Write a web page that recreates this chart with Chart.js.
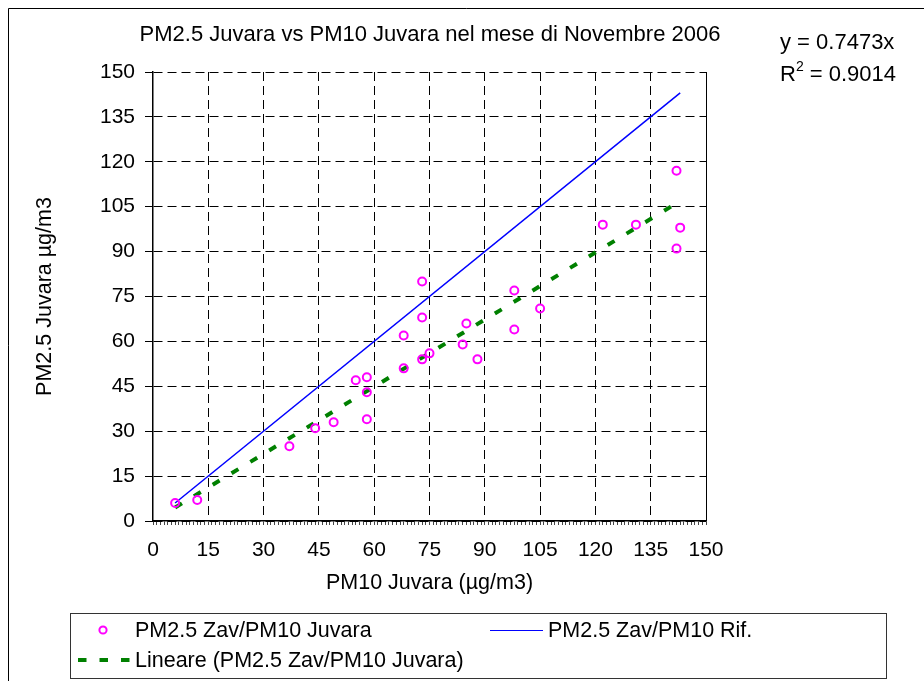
<!DOCTYPE html>
<html><head><meta charset="utf-8">
<script src="https://cdn.jsdelivr.net/npm/chart.js@4/dist/chart.umd.min.js"></script>
<style>html,body{margin:0;padding:0;background:#fff;overflow:hidden}canvas{display:block}</style>
</head><body>
<canvas id="c" width="924" height="681"></canvas>
<script>
// ---- data ----
const pm10Juvara = [6, 12, 37, 44, 49, 55, 58, 58, 58, 68, 68, 73, 73, 73, 75, 84, 85, 88, 98, 98, 105, 122, 131, 142, 143, 142];
const pm25Zav    = [6, 7, 25, 31, 33, 47, 48, 43, 34, 62, 51, 80, 68, 54, 56, 59, 66, 54, 77, 64, 71, 99, 99, 117, 98, 91];
const refX   = [6, 143];
const refY   = [6, 143];
const trendX = [6, 143];
const trendY = [4.5, 106.9];
const axisMin = 0, axisMax = 150, majorStep = 15;

const titleText = 'PM2.5 Juvara vs PM10 Juvara nel mese di Novembre 2006';
const xTitle = 'PM10 Juvara (µg/m3)';
const yTitle = 'PM2.5 Juvara µg/m3';
const eqText = 'y = 0.7473x';
const r2Label = 'R', r2Sup = '2', r2Value = ' = 0.9014';
const seriesNames = ['PM2.5 Zav/PM10 Juvara', 'PM2.5 Zav/PM10 Rif.', 'Lineare (PM2.5 Zav/PM10 Juvara)'];

const FONT = "'Liberation Sans', Arial, sans-serif";
Chart.defaults.font.family = FONT;
Chart.defaults.color = '#000';

const pts = (xs, ys) => xs.map((x, i) => ({x, y: ys[i]}));

const decor = {
  id: 'decor',
  beforeDraw(chart) {
    const c = chart.ctx;
    c.save(); c.fillStyle = '#fff'; c.fillRect(0, 0, chart.width, chart.height); c.restore();
  },
  afterDraw(chart) {
    const c = chart.ctx;
    const ds = chart.data.datasets;
    c.save();
    // outer frame
    c.strokeStyle = '#000'; c.lineWidth = 1;
    c.beginPath(); c.moveTo(8.5, 690); c.lineTo(8.5, 8.5); c.lineTo(930, 8.5); c.stroke();
    // title
    c.fillStyle = '#000';
    c.font = '22px ' + FONT;
    c.textAlign = 'center'; c.textBaseline = 'middle';
    c.fillText(titleText, 430, 35);
    // equation
    c.textAlign = 'left';
    c.font = '22px ' + FONT;
    c.fillText(eqText, 780, 43);
    c.fillText(r2Label, 780, 75);
    let w = c.measureText(r2Label).width;
    c.font = '14px ' + FONT;
    c.fillText(r2Sup, 780 + w, 67);
    let w2 = c.measureText(r2Sup).width;
    c.font = '22px ' + FONT;
    c.fillText(r2Value, 780 + w + w2, 75);
    // legend box
    c.strokeStyle = '#333'; c.lineWidth = 1;
    c.strokeRect(70.5, 613.5, 816, 65);
    c.font = '21.5px ' + FONT;
    // item 1: marker
    c.strokeStyle = ds[0].borderColor; c.lineWidth = ds[0].borderWidth;
    c.beginPath(); c.arc(103, 630, 3.6, 0, Math.PI * 2); c.stroke();
    c.fillStyle = '#000'; c.fillText(seriesNames[0], 135, 631);
    // item 2: blue line
    c.strokeStyle = ds[1].borderColor; c.lineWidth = 1;
    c.beginPath(); c.moveTo(490, 630.5); c.lineTo(543, 630.5); c.stroke();
    c.fillText(seriesNames[1], 548, 631);
    // item 3: green dashed
    c.strokeStyle = ds[2].borderColor; c.lineWidth = ds[2].borderWidth;
    c.setLineDash([8.5, 13]);
    c.beginPath(); c.moveTo(78, 660); c.lineTo(130, 660); c.stroke();
    c.setLineDash([]);
    c.fillText(seriesNames[2], 135, 661);
    c.restore();
  }
};

new Chart(document.getElementById('c'), {
  type: 'scatter',
  data: {
    datasets: [
      { label: seriesNames[0], data: pts(pm10Juvara, pm25Zav), showLine: false,
        pointStyle: 'circle', pointRadius: 4, pointBorderWidth: 2,
        borderColor: '#FF00FF', backgroundColor: 'rgba(0,0,0,0)', borderWidth: 2 },
      { label: seriesNames[1], data: pts(refX, refY), showLine: true, pointRadius: 0,
        borderColor: '#0000FF', borderWidth: 1.5, backgroundColor: '#0000FF' },
      { label: seriesNames[2], data: pts(trendX, trendY), showLine: true, pointRadius: 0,
        borderColor: '#008000', borderWidth: 4, borderDash: [8, 14], backgroundColor: '#008000' }
    ]
  },
  options: {
    responsive: false, animation: false, devicePixelRatio: 1,
    layout: { padding: { left: 8, top: 72, right: 218, bottom: 80 } },
    plugins: { legend: { display: false }, title: { display: false }, tooltip: { enabled: false } },
    scales: {
      x: {
        type: 'linear', min: axisMin, max: axisMax,
        afterFit(s) { s.height = 80; },
        ticks: { stepSize: 1, autoSkip: false, maxRotation: 0, padding: 13,
          font: { size: 21 }, color: '#000',
          callback: v => (v % majorStep === 0 ? String(v) : '') },
        grid: {
          color: ctx => (ctx.tick && ctx.tick.value % majorStep === 0 && ctx.tick.value !== 0) ? '#000' : 'rgba(0,0,0,0)',
          lineWidth: 1, tickLength: 4, tickColor: '#444', tickWidth: 1
        },
        border: { display: true, color: '#000', width: 1.5,
          dash: ctx => (ctx.tick && ctx.tick.value === axisMax) ? [] : [9, 5] },
        title: { display: true, text: xTitle, font: { size: 21.5 }, color: '#000', padding: { top: 0, bottom: 5 } }
      },
      y: {
        type: 'linear', min: axisMin, max: axisMax,
        afterFit(s) { s.width = 145; },
        ticks: { stepSize: majorStep, padding: 10, font: { size: 21 }, color: '#000' },
        grid: { color: '#000', lineWidth: 1, tickLength: 8, tickColor: '#000' },
        border: { display: true, color: '#000', width: 1.5, dash: [9, 5] },
        title: { display: true, text: yTitle, font: { size: 21.5 }, color: '#000', padding: { top: 24, bottom: 0 } }
      }
    }
  },
  plugins: [decor]
});
</script>
</body></html>
